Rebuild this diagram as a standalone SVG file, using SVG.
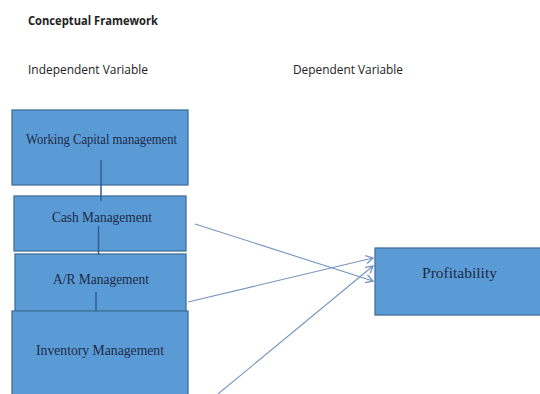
<svg xmlns="http://www.w3.org/2000/svg" width="540" height="394" viewBox="0 0 540 394">
<style>
.box{fill:#5b9bd5;stroke:#41719c;stroke-width:1.3}
.lbl{font-family:"Liberation Serif","Times New Roman",serif;fill:#1c2a48;font-size:15px}
.hdr{font-family:"Open Sans","Liberation Sans",sans-serif;fill:#222;font-size:12px}
.vline{stroke:#2f5f8f;stroke-width:1.5}
.arrow{stroke:#7594bd;stroke-width:1.1;fill:none;marker-end:url(#ah)}
</style>
<defs>
<marker id="ah" markerWidth="10" markerHeight="10" refX="8" refY="5" orient="auto" markerUnits="userSpaceOnUse">
<path d="M1,1 L8,5 L1,9" fill="none" stroke="#7594bd" stroke-width="1.3"/>
</marker>
</defs>
<rect width="540" height="394" fill="#fff"/>
<text class="hdr" x="28" y="25" font-weight="bold" textLength="130" lengthAdjust="spacingAndGlyphs">Conceptual Framework</text>
<text class="hdr" x="28" y="74" fill="#444" textLength="120" lengthAdjust="spacingAndGlyphs">Independent Variable</text>
<text class="hdr" x="293" y="74" fill="#444" textLength="110" lengthAdjust="spacingAndGlyphs">Dependent Variable</text>
<g id="wcm">
<rect class="box" x="12" y="110" width="176" height="75"/>
<text class="lbl" x="26" y="144" font-size="12" textLength="151" lengthAdjust="spacingAndGlyphs">Working Capital management</text>
</g>
<g id="cash">
<rect class="box" x="14" y="196" width="172" height="55"/>
<text class="lbl" x="52" y="222" textLength="100" lengthAdjust="spacingAndGlyphs">Cash Management</text>
</g>
<g id="ar">
<rect class="box" x="15" y="254" width="171" height="57"/>
<text class="lbl" x="53" y="284" textLength="96" lengthAdjust="spacingAndGlyphs">A/R Management</text>
</g>
<g id="inv">
<rect class="box" x="12" y="311" width="176" height="90"/>
<text class="lbl" x="36" y="355" font-size="16" textLength="128" lengthAdjust="spacingAndGlyphs">Inventory Management</text>
</g>
<g id="profit">
<rect class="box" x="375" y="248" width="170" height="67"/>
<text class="lbl" x="422" y="278" font-size="16" textLength="75" lengthAdjust="spacingAndGlyphs">Profitability</text>
</g>
<g id="connectors">
<line class="vline" x1="101" y1="160" x2="101" y2="201"/>
<line class="vline" x1="98.5" y1="226" x2="98.5" y2="255"/>
<line class="vline" x1="96" y1="292" x2="96" y2="311"/>
<line class="arrow" x1="195" y1="224" x2="373" y2="281"/>
<line class="arrow" x1="188" y1="302" x2="373" y2="258"/>
<line class="arrow" x1="218" y1="394" x2="373" y2="266"/>
</g>
</svg>
